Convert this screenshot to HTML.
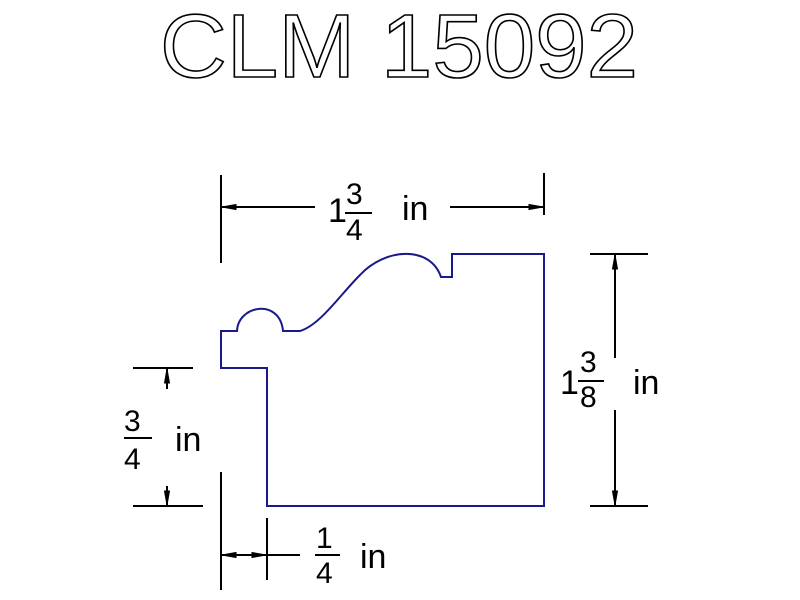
<!DOCTYPE html>
<html><head><style>body{margin:0;background:#fff}svg{display:block}</style></head>
<body>
<svg width="800" height="600" viewBox="0 0 800 600" xmlns="http://www.w3.org/2000/svg" font-family="Liberation Sans, sans-serif">
<rect width="800" height="600" fill="#fff"/>
<text x="160" y="77" font-size="90" fill="none" stroke="#000" stroke-width="1.6" textLength="478" lengthAdjust="spacingAndGlyphs" font-weight="normal">CLM 15092</text>
<!-- profile -->
<path d="M221,331 L237,331 C238,305 280,298 283,331 L300,331 C320,325 340,295 360,275 C385,248 430,245 441,277 L452,277 L452,254 L544,254 L544,506 L267,506 L267,368 L221,368 Z" fill="none" stroke="#1a1a8c" stroke-width="2"/>
<g stroke="#000" stroke-width="2" fill="#000">
<!-- top dim -->
<line x1="221" y1="175" x2="221" y2="263"/>
<line x1="544" y1="173" x2="544" y2="215"/>
<line x1="221" y1="207" x2="315" y2="207"/>
<line x1="450" y1="207" x2="544" y2="207"/>
<path d="M222,207 l14,-2.5 l0,5z" stroke-width="1"/>
<path d="M543,207 l-14,-2.5 l0,5z" stroke-width="1"/>
<!-- right dim -->
<line x1="590" y1="254" x2="648" y2="254"/>
<line x1="590" y1="506" x2="648" y2="506"/>
<line x1="615" y1="254" x2="615" y2="358"/>
<line x1="615" y1="410" x2="615" y2="506"/>
<path d="M615,255 l-2.5,14 l5,0z" stroke-width="1"/>
<path d="M615,505 l-2.5,-14 l5,0z" stroke-width="1"/>
<!-- left dim -->
<line x1="133" y1="368" x2="193" y2="368"/>
<line x1="133" y1="506" x2="203" y2="506"/>
<line x1="167" y1="368" x2="167" y2="389"/>
<line x1="167" y1="486" x2="167" y2="506"/>
<path d="M167,369 l-2.5,14 l5,0z" stroke-width="1"/>
<path d="M167,505 l-2.5,-14 l5,0z" stroke-width="1"/>
<!-- bottom dim -->
<line x1="221" y1="472" x2="221" y2="590"/>
<line x1="267" y1="518" x2="267" y2="580"/>
<line x1="221" y1="555" x2="300" y2="555"/>
<path d="M222,555 l14,-2.5 l0,5z" stroke-width="1"/>
<path d="M266,555 l-14,-2.5 l0,5z" stroke-width="1"/>
</g>
<g fill="#000" font-size="34">
<text x="328" y="222">1</text>
<text x="346" y="204" font-size="30">3</text>
<line x1="345" y1="213" x2="372" y2="213" stroke="#000" stroke-width="2"/>
<text x="346" y="240" font-size="30">4</text>
<text x="402" y="220">in</text>

<text x="560" y="394">1</text>
<text x="580" y="372" font-size="30">3</text>
<line x1="578" y1="381" x2="604" y2="381" stroke="#000" stroke-width="2"/>
<text x="580" y="407" font-size="30">8</text>
<text x="633" y="394">in</text>

<text x="124" y="431" font-size="30">3</text>
<line x1="124" y1="438" x2="152" y2="438" stroke="#000" stroke-width="2"/>
<text x="124" y="469" font-size="30">4</text>
<text x="175" y="451">in</text>

<text x="316" y="548" font-size="30">1</text>
<line x1="315" y1="555" x2="340" y2="555" stroke="#000" stroke-width="2"/>
<text x="316" y="583" font-size="30">4</text>
<text x="360" y="568">in</text>
</g>
</svg>
</body></html>
